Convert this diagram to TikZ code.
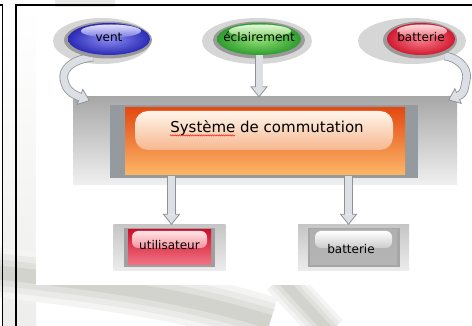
\documentclass[tikz,border=0pt]{standalone}
\usepackage{fontspec}
\setmainfont{DejaVu Sans}
\usetikzlibrary{shapes.geometric,decorations.markings,decorations.pathmorphing,calc}
\definecolor{edgegray}{HTML}{8E939A}
\definecolor{fillgray}{HTML}{DCE0E5}
\definecolor{halogray}{HTML}{D6D6D6}
\definecolor{ringgray}{HTML}{9A9A9A}
\definecolor{frametop}{HTML}{A8A8A8}
\definecolor{framebot}{HTML}{F0F0F0}
\definecolor{innerframe}{HTML}{959A9E}
\definecolor{orangetop}{HTML}{E34A12}
\definecolor{orangemid}{HTML}{F07C34}
\definecolor{orangebot}{HTML}{FCB767}
\definecolor{bluein}{HTML}{8C8CF0}
\definecolor{blueout}{HTML}{2A2AB6}
\definecolor{greenin}{HTML}{94E274}
\definecolor{greenout}{HTML}{2E9C2E}
\definecolor{redin}{HTML}{F8828F}
\definecolor{redout}{HTML}{D2192F}
\definecolor{redtop}{HTML}{D0102A}
\definecolor{redbot}{HTML}{F27586}
\definecolor{wm}{HTML}{C4C4BE}
\begin{document}
\begin{tikzpicture}[x=1pt,y=-1pt,
  rbox/.style 2 args={rectangle, inner sep=0pt, minimum width=#1, minimum height=#2},
  ebox/.style 2 args={ellipse, inner sep=0pt, minimum width=#1, minimum height=#2},
  lbl/.style={inner sep=0pt, font=\fontsize{12}{14}\selectfont},
  barrow/.style={line width=7pt, draw=fillgray, line cap=butt,
    preaction={draw=edgegray, line width=8.6pt, line cap=butt},
    postaction={decorate, decoration={markings, mark=at position 1 with {
      \fill[fillgray] (0pt,8pt) -- (10pt,0pt) -- (0pt,-8pt) -- cycle;
      \draw[edgegray, line width=0.8pt, line join=miter]
        (0pt,3.5pt) -- (0pt,8pt) -- (10pt,0pt) -- (0pt,-8pt) -- (0pt,-3.5pt);}}}}
  ]
\useasboundingbox (0,0) rectangle (472,326);
% background watermark
\fill[white] (0,0) rectangle (472,326);
\shade[top color=white, middle color=wm!45, bottom color=wm!30] (3,8) rectangle (36,326);
\fill[wm!35] (55,0) rectangle (115,14);
\foreach \w/\c in {50/18,38/35,26/55,14/75}{
  \draw[wm!\c, line width=\w pt, line cap=butt] (-5,272) .. controls (100,284) and (180,294) .. (270,322);
  \draw[wm!\c, line width=0.7*\w pt, line cap=butt] (280,278) -- (330,332);
}
% white panel
\fill[white] (36,7) rectangle (472,285);
% borders
\draw[line width=1.4pt] (0,5) -- (2.5,5) -- (2.5,326);
\draw[line width=1.4pt] (472,5) -- (16,5) -- (16,326);

% main box
\node[rbox={384pt}{88pt}, top color=frametop, bottom color=framebot] (mainouter) at (265,141) {};
\node[rbox={308pt}{73pt}, fill=innerframe] (maininner) at (264,141.5) {};
\node[rbox={280pt}{67pt}, top color=orangetop, middle color=orangemid, bottom color=orangebot] (mainbox) at (265,141.5) {};
\node[rbox={258pt}{39pt}, rounded corners=13pt, top color=white!92!orange, bottom color=orangemid!55!white] (mainhl) at (264,130.5) {};
\node[inner sep=0pt, font=\fontsize{15}{18}\selectfont] (title) at (267,128) {Système de commutation};
\draw[red, line width=0.4pt, decorate, decoration={snake, segment length=2.2pt, amplitude=0.7pt}]
  ($(title.base west)+(0,3)$) -- ($(title.base west)+(65,3)$);

% bottom boxes
\node[rbox={112pt}{46pt}, top color=gray!45, bottom color=gray!15] (util) at (169.5,247.5) {};
\node[rbox={91pt}{39pt}, fill=gray!75] (utilin) at (169.5,247.5) {};
\node[rbox={83pt}{35pt}, top color=redtop, bottom color=redbot] (utilbox) at (169.5,247.5) {};
\node[rbox={75pt}{17pt}, rounded corners=6pt, top color=white!90!red, bottom color=redbot!80!white] (utilhl) at (169.5,239.5) {};
\node[lbl] (utiltxt) at (169.5,245) {utilisateur};

\node[rbox={111pt}{46pt}, top color=gray!45, bottom color=gray!15] (batt) at (353.5,247.5) {};
\node[rbox={92pt}{39pt}, fill=gray!70] (battin) at (354,247.5) {};
\node[rbox={87pt}{35pt}, top color=gray!62, bottom color=gray!58] (battbox) at (353.5,247.5) {};
\node[rbox={77pt}{17pt}, rounded corners=6pt, top color=white, bottom color=gray!40] (batthl) at (353.5,239.5) {};
\node[lbl] (batttxt) at (351,249) {batterie};

% connector end points
\coordinate (lS) at (93,57);
\coordinate (lE) at (80,97);
\coordinate (rS) at (445,56);
\coordinate (rE) at (458,96);

% top ellipses
\node[ebox={98pt}{46pt}, fill=halogray] (venthalo) at (102,41) {};
\node[ebox={110pt}{46pt}, fill=halogray] (eclhalo) at (257,41) {};
\node[ebox={108pt}{46pt}, fill=halogray] (batthalo) at (412,41) {};

\draw[barrow] (lS) .. controls (70,60) and (62,70) .. (64,80) .. controls (66,90) and (72,94) .. (lE);
\draw[barrow] (rS) .. controls (462,59) and (469,71) .. (466,81) .. controls (464,89) and (465,93) .. (rE);

\node[ebox={88pt}{37pt}, fill=ringgray] (ventring) at (108,40) {};
\node[ebox={82pt}{32pt}, inner color=bluein, outer color=blueout] (vent) at (109,39) {};
\node[ebox={60pt}{13pt}, top color=white!75!bluein, bottom color=bluein!80!blueout] (venthl) at (111,31) {};
\node[lbl] (venttxt) at (109,37) {vent};

\node[ebox={92pt}{37pt}, fill=ringgray] (eclring) at (259,40) {};
\node[ebox={84pt}{32pt}, inner color=greenin, outer color=greenout] (ecl) at (259,39) {};
\node[ebox={62pt}{13pt}, top color=white!75!greenin, bottom color=greenin!80!greenout] (eclhl) at (260,31) {};
\node[lbl] (ecltxt) at (259,37) {éclairement};

\node[ebox={74pt}{37pt}, fill=ringgray] (batring) at (420,40) {};
\node[ebox={68pt}{32pt}, inner color=redin, outer color=redout] (bat) at (421,39) {};
\node[ebox={50pt}{13pt}, top color=white!75!redin, bottom color=redin!80!redout] (bathl) at (422,31) {};
\node[lbl] (battop) at (421,37) {batterie};

\draw[barrow] (ecl.south) -- ($(ecl.south |- mainouter.north)+(0,-10)$);
\draw[barrow] ($(util.north |- maininner.south)+(2,-2)$) -- ($(util.north)+(2,-10)$);
\draw[barrow] ($(batt.north |- maininner.south)+(-5,-2)$) -- ($(batt.north)+(-5,-10)$);
\end{tikzpicture}
\end{document}
